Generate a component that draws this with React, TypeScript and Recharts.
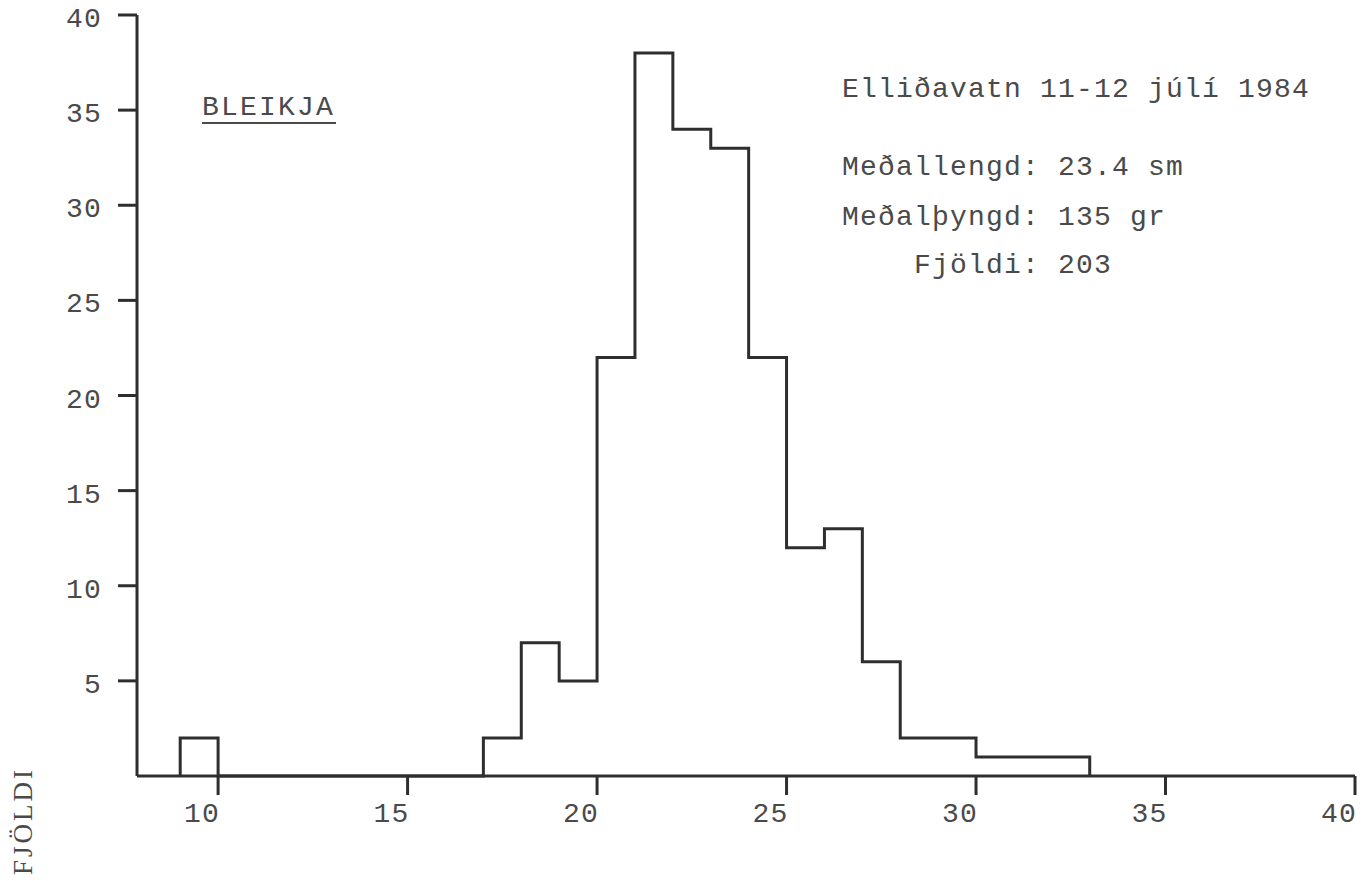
import React from "react";
import { LineChart, Line, XAxis, YAxis } from "recharts";

// Length classes (sm), lower bound of each 1 sm bin, and number of fish
const binStarts = [9, 17, 18, 19, 20, 21, 22, 23, 24, 25, 26, 27, 28, 29, 30, 31, 32];
const counts = [2, 2, 7, 5, 22, 38, 34, 33, 22, 12, 13, 6, 2, 2, 1, 1, 1];
const binWidth = 1;

const xTicks = [10, 15, 20, 25, 30, 35, 40];
const yTicks = [5, 10, 15, 20, 25, 30, 35, 40];

const titleText = "Elliðavatn 11-12 júlí 1984";
const infoLines = ["Meðallengd: 23.4 sm", "Meðalþyngd: 135 gr", "Fjöldi: 203"];
const speciesText = "BLEIKJA";
const yAxisTitle = "FJÖLDI";

// Build the outline of the histogram (step line) from the bins
const outline: { x: number; y: number }[] = [];
binStarts.forEach((s, i) => {
  const prevEnd = i > 0 ? binStarts[i - 1] + binWidth : null;
  if (prevEnd === null || prevEnd !== s) outline.push({ x: s, y: 0 });
  outline.push({ x: s, y: counts[i] });
  const nextStart = i < binStarts.length - 1 ? binStarts[i + 1] : null;
  if (nextStart === null || nextStart !== s + binWidth) outline.push({ x: s + binWidth, y: 0 });
});

const INK = "#2e2e2e";
const TEXT = "#4a4a4a";
const MONO = "'Liberation Mono', 'DejaVu Sans Mono', monospace";

const YTick = (props: any) => {
  const { x, y, payload } = props;
  return (
    <text x={x} y={y + 12} textAnchor="end" fontFamily={MONO} fontSize={28} letterSpacing={1.2} fill={TEXT}>
      {payload.value}
    </text>
  );
};

const XTick = (props: any) => {
  const { x, y, payload } = props;
  return (
    <text x={x + 2} y={y + 27} textAnchor="end" fontFamily={MONO} fontSize={28} letterSpacing={1.2} fill={TEXT}>
      {payload.value}
    </text>
  );
};

export default function App() {
  return (
    <div style={{ position: "absolute", left: 0, top: 0, width: 1372, height: 881, background: "#ffffff" }}>
      <LineChart
        width={1372}
        height={881}
        data={outline}
        margin={{ top: 15, right: 17, bottom: 65, left: 77 }}
      >
        <XAxis
          type="number"
          dataKey="x"
          domain={[7.86, 40]}
          allowDataOverflow
          ticks={xTicks}
          interval={0}
          height={40}
          tickSize={19}
          tickMargin={0}
          axisLine={{ stroke: INK, strokeWidth: 3 }}
          tickLine={{ stroke: INK, strokeWidth: 3 }}
          tick={<XTick />}
        />
        <YAxis
          type="number"
          domain={[0, 40]}
          ticks={yTicks}
          interval={0}
          width={60}
          tickSize={19}
          tickMargin={16}
          axisLine={{ stroke: INK, strokeWidth: 3 }}
          tickLine={{ stroke: INK, strokeWidth: 3 }}
          tick={<YTick />}
        />
        <Line
          type="stepAfter"
          dataKey="y"
          stroke={INK}
          strokeWidth={3}
          dot={false}
          activeDot={false}
          isAnimationActive={false}
        />
      </LineChart>
      <svg
        width={1372}
        height={881}
        style={{ position: "absolute", left: 0, top: 0, pointerEvents: "none" }}
      >
        <text x={202} y={115} fontFamily={MONO} fontSize={28} letterSpacing={2.2} fill={TEXT}>
          {speciesText}
        </text>
        <line x1={202} y1={123} x2={336} y2={123} stroke={TEXT} strokeWidth={2} />
        <text x={842} y={97} fontFamily={MONO} fontSize={28} letterSpacing={1.2} fill={TEXT}>
          {titleText}
        </text>
        <text x={842} y={175} fontFamily={MONO} fontSize={28} letterSpacing={1.2} fill={TEXT}>
          {infoLines[0]}
        </text>
        <text x={842} y={225} fontFamily={MONO} fontSize={28} letterSpacing={1.2} fill={TEXT}>
          {infoLines[1]}
        </text>
        <text x={914} y={273} fontFamily={MONO} fontSize={28} letterSpacing={1.2} fill={TEXT}>
          {infoLines[2]}
        </text>
        <text
          x={32}
          y={875}
          transform="rotate(-90 32 875)"
          fontFamily="'Liberation Serif', serif"
          fontSize={27}
          letterSpacing={3}
          fill={TEXT}
        >
          {yAxisTitle}
        </text>
      </svg>
    </div>
  );
}
